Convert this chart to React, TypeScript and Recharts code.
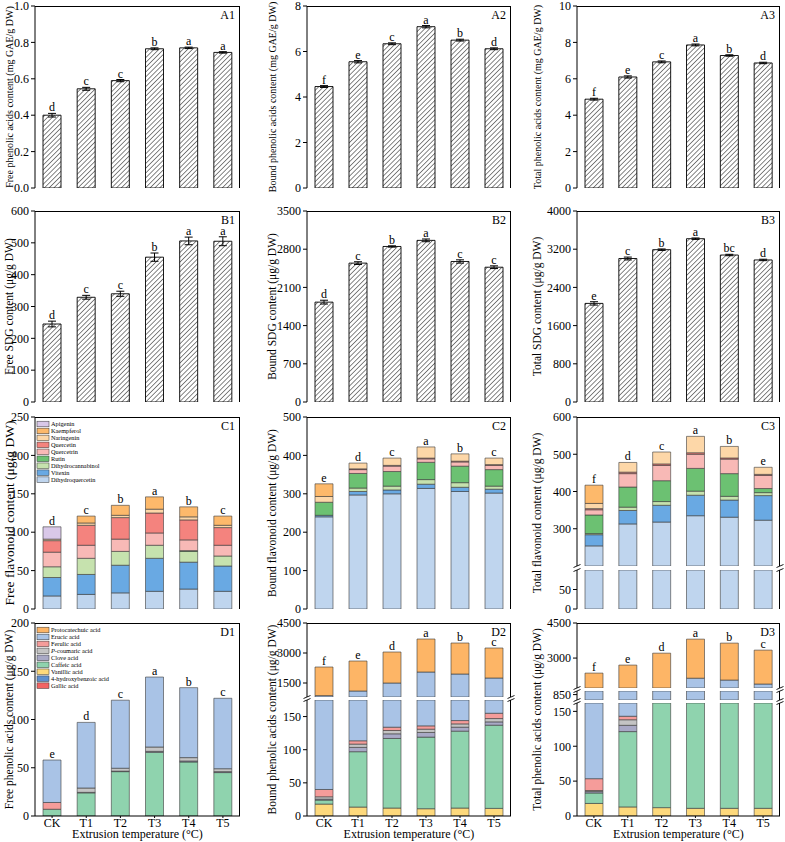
import React from "react";
import { BarChart, Bar, XAxis, YAxis, ErrorBar, ReferenceDot } from "recharts";

const categories = ["CK", "T1", "T2", "T3", "T4", "T5"];

// A row: phenolic acids (mg GAE/g DW)
const a1Values = [0.4, 0.545, 0.59, 0.765, 0.77, 0.745];
const a1Errors = [0.01, 0.008, 0.006, 0.005, 0.004, 0.004];
const a1Letters = ["d", "c", "c", "b", "a", "a"];
const a2Values = [4.46, 5.55, 6.34, 7.09, 6.5, 6.12];
const a2Errors = [0.04, 0.05, 0.04, 0.05, 0.04, 0.04];
const a2Letters = ["f", "e", "c", "a", "b", "d"];
const a3Values = [4.88, 6.1, 6.93, 7.86, 7.28, 6.87];
const a3Errors = [0.05, 0.06, 0.05, 0.05, 0.04, 0.04];
const a3Letters = ["f", "e", "c", "a", "b", "d"];

// B row: SDG (µg/g DW)
const b1Values = [245, 329, 340, 455, 506, 505];
const b1Errors = [9, 6, 8, 13, 12, 14];
const b1Letters = ["d", "c", "c", "b", "a", "a"];
const b2Values = [1830, 2545, 2850, 2962, 2575, 2470];
const b2Errors = [35, 25, 12, 25, 30, 25];
const b2Letters = ["d", "c", "b", "a", "c", "c"];
const b3Values = [2065, 3005, 3190, 3420, 3078, 2975];
const b3Errors = [35, 30, 15, 15, 15, 15];
const b3Letters = ["e", "c", "b", "a", "bc", "d"];

// C row: flavonoids, stack order bottom -> top
const flavonoidNames = ["Dihydroquercetin", "Vitexin", "Dihydrocannabinol", "Rutin", "Quercetrin", "Quercetin", "Naringenin", "Kaempferol", "Apigenin"];
const flavonoidColors = ["#bfd5ee", "#69a9e3", "#c6e2ae", "#6cc172", "#f8b9b6", "#f4837e", "#fdd7a8", "#fdb96b", "#d9c8e8"];
const c1Values = [
  [17, 19, 21, 23, 26, 23],
  [24, 26, 36, 43, 35, 33],
  [14, 21, 18, 17, 14, 13],
  [0, 0, 0, 0, 1, 0],
  [19, 17, 16, 16, 14, 14],
  [15, 26, 28, 26, 26, 23],
  [2, 3, 3, 5, 4, 3],
  [0, 9, 13, 16, 13, 12],
  [16, 0, 0, 0, 0, 0],
];
const c1Letters = ["d", "c", "b", "a", "b", "c"];
const c2Values = [
  [240, 297, 300, 314, 306, 302],
  [4, 9, 10, 11, 11, 10],
  [0, 9, 10, 12, 12, 8],
  [34, 38, 38, 45, 43, 43],
  [0, 10, 14, 9, 11, 11],
  [0, 2, 2, 2, 2, 2],
  [15, 15, 19, 29, 19, 17],
  [33, 0, 0, 0, 0, 0],
  [0, 0, 0, 0, 0, 0],
];
const c2Letters = ["e", "d", "c", "a", "b", "c"];
const c3Values = [
  [254, 313, 318, 335, 331, 323],
  [30, 36, 45, 55, 46, 66],
  [3, 9, 10, 11, 10, 8],
  [50, 54, 56, 61, 61, 11],
  [14, 36, 41, 38, 39, 35],
  [3, 4, 4, 4, 3, 3],
  [14, 26, 32, 44, 31, 19],
  [49, 0, 0, 0, 0, 0],
  [0, 0, 0, 0, 0, 0],
];
const c3Letters = ["f", "d", "c", "a", "b", "e"];

// D row: phenolic acids (µg/g DW), stack order bottom -> top
const phenolicNames = ["Gallic acid", "4-hydroxybenzoic acid", "Vanillic acid", "Caffeic acid", "Clove acid", "P-coumaric acid", "Ferulic acid", "Erucic acid", "Protocatechuic acid"];
const phenolicColors = ["#f26464", "#5d8fcf", "#fdd97c", "#8fd3ae", "#a9a9c6", "#c4c4c4", "#f59c9a", "#a9c3e6", "#fdb566"];
const d1Values = [
  [0, 0, 0, 0, 0, 0],
  [0, 0, 0, 0, 0, 0],
  [0, 0, 0, 0, 0, 0],
  [7, 24, 46, 66, 56, 45],
  [0, 0.5, 0.5, 1, 1, 1],
  [0, 4.5, 3, 4.5, 3.5, 3],
  [7, 0, 0, 0, 0, 0],
  [44, 68, 70.5, 72.5, 72.5, 73],
  [0, 0, 0, 0, 0, 0],
];
const d1Letters = ["e", "d", "c", "a", "b", "c"];
const d2Values = [
  [0, 0, 0, 0, 0, 0],
  [0, 0, 0, 0, 0, 0],
  [18, 13.5, 12, 11, 12, 11.5],
  [6, 83.5, 105, 108, 116, 125.5],
  [1.5, 6.5, 7, 7, 6, 5],
  [3.5, 5, 5, 5, 5, 5],
  [11, 5, 5, 5, 5, 8],
  [830, 986.5, 1366, 1914, 1806, 1595],
  [1430, 1500, 1550, 1650, 1550, 1500],
];
const d2Letters = ["f", "e", "d", "a", "b", "c"];
const d3Values = [
  [0, 0, 0, 0, 0, 0],
  [0, 0, 0, 0, 0, 0],
  [18, 13, 12, 11, 11, 11],
  [15, 108, 165, 175, 172, 170],
  [2, 9, 7, 7, 7, 6],
  [1.5, 8, 8, 10, 8, 8],
  [17, 5, 5, 5, 5, 9],
  [866.5, 1037, 1363, 1932, 1857, 1686],
  [1437, 1520, 1650, 1670, 1580, 1450],
];
const d3Letters = ["f", "e", "d", "a", "b", "c"];

const FONT = "'Liberation Serif', 'Times New Roman', serif";

type Col = { x0: number; left: number; right: number; title: number };
type Seg = { top: number; bottom: number; domain: [number, number]; ticks: number[] };

const cols: Col[] = [
  { x0: 0, left: 35, right: 240, title: 9 },
  { x0: 255, left: 307, right: 511, title: 272 },
  { x0: 520, left: 577, right: 780, title: 537 },
];
const rowA = { top: 6, bottom: 188 };
const rowB = { top: 211, bottom: 402 };
const rowC = { top: 417, bottom: 609 };
const rowD = { top: 623, bottom: 816 };

const tickY = { fontSize: 12, fill: "#000", fontFamily: FONT };
const tickX = { fontSize: 12, fill: "#000", fontFamily: FONT };

type SegProps = {
  col: Col;
  seg: Seg;
  data: any[];
  axis: "none" | "line" | "labels";
  isTop: boolean;
  fmt?: (v: number) => string;
  children?: React.ReactNode;
};

function Segment({ col, seg, data, axis, isTop, fmt, children }: SegProps) {
  const padTop = 10;
  const xH = axis === "labels" ? 26 : 0;
  const padBottom = axis === "labels" ? 0 : 10;
  const w = col.right + 4 - col.x0;
  const h = seg.bottom - seg.top + padTop + xH + padBottom;
  return (
    <>
      <div style={{ position: "absolute", left: col.x0, top: seg.top - padTop }}>
        <BarChart
          width={w}
          height={h}
          data={data}
          margin={{ top: padTop, right: 4, bottom: padBottom, left: 0 }}
          barSize={18}
          style={{ overflow: "visible" }}
        >
          <XAxis
            dataKey="name"
            hide={axis === "none"}
            height={xH}
            tick={axis === "labels" ? tickX : false}
            tickLine={axis === "labels" ? { stroke: "#000" } : false}
            tickSize={2}
            tickMargin={0}
            axisLine={{ stroke: "#000" }}
            label={
              axis === "labels"
                ? { value: "Extrusion temperature (°C)", position: "insideBottom", offset: 4, fontSize: 12, fill: "#000", fontFamily: FONT }
                : undefined
            }
          />
          <YAxis
            type="number"
            width={col.left - col.x0}
            domain={seg.domain}
            ticks={seg.ticks}
            allowDataOverflow
            interval={0}
            tick={tickY}
            tickSize={4}
            tickLine={{ stroke: "#000" }}
            axisLine={{ stroke: "#000" }}
            tickFormatter={fmt}
          />
          {children}
        </BarChart>
      </div>
      <div
        style={{
          position: "absolute",
          left: col.left,
          top: seg.top,
          width: col.right - col.left,
          height: seg.bottom - seg.top,
          borderRight: "1px solid #000",
          borderTop: isTop ? "1px solid #000" : "none",
          boxSizing: "border-box",
          pointerEvents: "none",
        }}
      />
    </>
  );
}

const letterLabel = (value: string) => ({
  value,
  position: "top" as const,
  offset: 2,
  fontSize: 12,
  fill: "#000",
  fontFamily: FONT,
});

type HatchProps = {
  id: string;
  col: Col;
  row: { top: number; bottom: number };
  domain: [number, number];
  ticks: number[];
  fmt?: (v: number) => string;
  values: number[];
  errors: number[];
  letters: string[];
};

function HatchPanel({ id, col, row, domain, ticks, fmt, values, errors, letters }: HatchProps) {
  const data = categories.map((name, i) => ({ name, v: values[i], e: errors[i] }));
  return (
    <Segment col={col} seg={{ top: row.top, bottom: row.bottom, domain, ticks }} data={data} axis="line" isTop fmt={fmt}>
      <defs>
        <pattern id={"hatch-" + id} patternUnits="userSpaceOnUse" width={3.4} height={3.4} patternTransform="rotate(45)">
          <rect width={3.4} height={3.4} fill="#fff" />
          <line x1={0} y1={0} x2={0} y2={3.4} stroke="#222" strokeWidth={1.1} />
        </pattern>
      </defs>
      <Bar dataKey="v" fill={`url(#hatch-${id})`} stroke="#000" strokeWidth={0.9} isAnimationActive={false}>
        <ErrorBar dataKey="e" width={4} stroke="#000" strokeWidth={1} direction="y" />
      </Bar>
      {letters.map((l, i) => (
        <ReferenceDot key={i} x={categories[i]} y={values[i] + errors[i]} r={0} fill="none" stroke="none" label={letterLabel(l)} />
      ))}
    </Segment>
  );
}

type StackProps = {
  col: Col;
  segs: Seg[];
  colors: string[];
  values: number[][];
  letters: string[];
  labels: boolean;
};

function StackPanel({ col, segs, colors, values, letters, labels }: StackProps) {
  const data = categories.map((name, i) => {
    const row: any = { name };
    values.forEach((s, k) => (row["s" + k] = s[i]));
    return row;
  });
  const totals = categories.map((_, i) => values.reduce((a, s) => a + s[i], 0));
  return (
    <>
      {segs.map((seg, si) => (
        <Segment
          key={si}
          col={col}
          seg={seg}
          data={data}
          axis={si === segs.length - 1 ? (labels ? "labels" : "line") : "none"}
          isTop={si === 0}
        >
          {values.map((_, k) => (
            <Bar key={k} dataKey={"s" + k} stackId="s" fill={colors[k]} stroke="#3a3a3a" strokeWidth={0.6} isAnimationActive={false} />
          ))}
          {si === 0 &&
            letters.map((l, i) => (
              <ReferenceDot key={"l" + i} x={categories[i]} y={totals[i]} r={0} fill="none" stroke="none" label={letterLabel(l)} />
            ))}
        </Segment>
      ))}
    </>
  );
}

const yTitles = [
  { col: 0, row: rowA, text: "Free phenolic acids content (mg GAE/g DW)", size: 10 },
  { col: 1, row: rowA, text: "Bound phenolic acids content (mg GAE/g DW)", size: 10 },
  { col: 2, row: rowA, text: "Total phenolic acids content (mg GAE/g DW)", size: 10 },
  { col: 0, row: rowB, text: "Free SDG content (μg/g DW)", size: 11.5 },
  { col: 1, row: rowB, text: "Bound SDG content (μg/g DW)", size: 11.5 },
  { col: 2, row: rowB, text: "Total SDG content (μg/g DW)", size: 11.5 },
  { col: 0, row: rowC, text: "Free flavonoid content (μg/g DW)", size: 13.5 },
  { col: 1, row: rowC, text: "Bound  flavonoid content (μg/g DW)", size: 11.5 },
  { col: 2, row: rowC, text: "Total flavonoid content (μg/g DW)", size: 11.5 },
  { col: 0, row: rowD, text: "Free phenolic acids content (μg/g DW)", size: 11.5 },
  { col: 1, row: rowD, text: "Bound phenolic acids content (μg/g DW)", size: 11.5 },
  { col: 2, row: rowD, text: "Total phenolic acids content (μg/g DW)", size: 11.5 },
];

const panelTags = [
  { col: 0, row: rowA, text: "A1" }, { col: 1, row: rowA, text: "A2" }, { col: 2, row: rowA, text: "A3" },
  { col: 0, row: rowB, text: "B1" }, { col: 1, row: rowB, text: "B2" }, { col: 2, row: rowB, text: "B3" },
  { col: 0, row: rowC, text: "C1" }, { col: 1, row: rowC, text: "C2" }, { col: 2, row: rowC, text: "C3" },
  { col: 0, row: rowD, text: "D1" }, { col: 1, row: rowD, text: "D2" }, { col: 2, row: rowD, text: "D3" },
];

// break gaps: upper segment bottom, lower segment top
const breaks = [
  { col: 2, y1: 566, y2: 570 },
  { col: 1, y1: 697, y2: 700 },
  { col: 2, y1: 688, y2: 691 },
  { col: 2, y1: 700, y2: 703 },
];

function Legend({ names, colors, top }: { names: string[]; colors: string[]; top: number }) {
  const items = [...names].reverse();
  const swatches = [...colors].reverse();
  return (
    <g>
      {items.map((n, i) => {
        const y = top + i * 6.96;
        const italicP = n.startsWith("P-");
        return (
          <g key={n}>
            <rect x={37} y={y - 2.8} width={12} height={5.6} fill={swatches[i]} stroke="#333" strokeWidth={0.5} />
            <text x={51} y={y + 2} fontSize={6.3} fill="#000">
              {italicP ? (
                <>
                  <tspan fontStyle="italic">P</tspan>
                  {n.slice(1)}
                </>
              ) : (
                n
              )}
            </text>
          </g>
        );
      })}
    </g>
  );
}

export default function App() {
  const f1 = (v: number) => v.toFixed(1);
  return (
    <div style={{ position: "absolute", left: 0, top: 0, width: 785, height: 842, background: "#fff", fontFamily: FONT, overflow: "hidden" }}>
      <HatchPanel id="a1" col={cols[0]} row={rowA} domain={[0, 1]} ticks={[0, 0.2, 0.4, 0.6, 0.8, 1]} fmt={f1} values={a1Values} errors={a1Errors} letters={a1Letters} />
      <HatchPanel id="a2" col={cols[1]} row={rowA} domain={[0, 8]} ticks={[0, 2, 4, 6, 8]} values={a2Values} errors={a2Errors} letters={a2Letters} />
      <HatchPanel id="a3" col={cols[2]} row={rowA} domain={[0, 10]} ticks={[0, 2, 4, 6, 8, 10]} values={a3Values} errors={a3Errors} letters={a3Letters} />
      <HatchPanel id="b1" col={cols[0]} row={rowB} domain={[0, 600]} ticks={[0, 100, 200, 300, 400, 500, 600]} values={b1Values} errors={b1Errors} letters={b1Letters} />
      <HatchPanel id="b2" col={cols[1]} row={rowB} domain={[0, 3500]} ticks={[0, 700, 1400, 2100, 2800, 3500]} values={b2Values} errors={b2Errors} letters={b2Letters} />
      <HatchPanel id="b3" col={cols[2]} row={rowB} domain={[0, 4000]} ticks={[0, 800, 1600, 2400, 3200, 4000]} values={b3Values} errors={b3Errors} letters={b3Letters} />

      <StackPanel col={cols[0]} segs={[{ top: rowC.top, bottom: rowC.bottom, domain: [0, 250], ticks: [0, 50, 100, 150, 200, 250] }]} colors={flavonoidColors} values={c1Values} letters={c1Letters} labels={false} />
      <StackPanel col={cols[1]} segs={[{ top: rowC.top, bottom: rowC.bottom, domain: [0, 500], ticks: [0, 100, 200, 300, 400, 500] }]} colors={flavonoidColors} values={c2Values} letters={c2Letters} labels={false} />
      <StackPanel
        col={cols[2]}
        segs={[
          { top: rowC.top, bottom: 566, domain: [200, 600], ticks: [300, 400, 500, 600] },
          { top: 570, bottom: rowC.bottom, domain: [0, 100], ticks: [0, 50] },
        ]}
        colors={flavonoidColors}
        values={c3Values}
        letters={c3Letters}
        labels={false}
      />

      <StackPanel col={cols[0]} segs={[{ top: rowD.top, bottom: rowD.bottom, domain: [0, 200], ticks: [0, 50, 100, 150, 200] }]} colors={phenolicColors} values={d1Values} letters={d1Letters} labels />
      <StackPanel
        col={cols[1]}
        segs={[
          { top: rowD.top, bottom: 697, domain: [800, 4500], ticks: [1500, 3000, 4500] },
          { top: 700, bottom: rowD.bottom, domain: [0, 175], ticks: [0, 50, 100, 150] },
        ]}
        colors={phenolicColors}
        values={d2Values}
        letters={d2Letters}
        labels
      />
      <StackPanel
        col={cols[2]}
        segs={[
          { top: rowD.top, bottom: 688, domain: [1720, 4500], ticks: [3000, 4500] },
          { top: 691, bottom: 700, domain: [820, 870], ticks: [850] },
          { top: 703, bottom: rowD.bottom, domain: [0, 162], ticks: [0, 50, 100, 150] },
        ]}
        colors={phenolicColors}
        values={d3Values}
        letters={d3Letters}
        labels
      />

      <svg width={785} height={842} style={{ position: "absolute", left: 0, top: 0, pointerEvents: "none" }} fontFamily={FONT}>
        {yTitles.map((t) => {
          const x = cols[t.col].title;
          const y = (t.row.top + t.row.bottom) / 2;
          return (
            <text key={t.text + t.col} x={x} y={y} transform={`rotate(-90 ${x} ${y})`} textAnchor="middle" dominantBaseline="central" fontSize={t.size} fill="#000">
              {t.text}
            </text>
          );
        })}
        {panelTags.map((t) => (
          <text key={t.text} x={cols[t.col].right - 5} y={t.row.top + 13} textAnchor="end" fontSize={12} fill="#000">
            {t.text}
          </text>
        ))}
        {breaks.map((b, i) =>
          [cols[b.col].left, cols[b.col].right].map((x) => (
            <g key={i + "-" + x} stroke="#000" strokeWidth={0.9}>
              <line x1={x - 3.5} y1={b.y1 + 1.5} x2={x + 3.5} y2={b.y1 - 1.5} />
              <line x1={x - 3.5} y1={b.y2 + 1.5} x2={x + 3.5} y2={b.y2 - 1.5} />
            </g>
          ))
        )}
        <Legend names={flavonoidNames} colors={flavonoidColors} top={424} />
        <Legend names={phenolicNames} colors={phenolicColors} top={630} />
      </svg>
    </div>
  );
}
